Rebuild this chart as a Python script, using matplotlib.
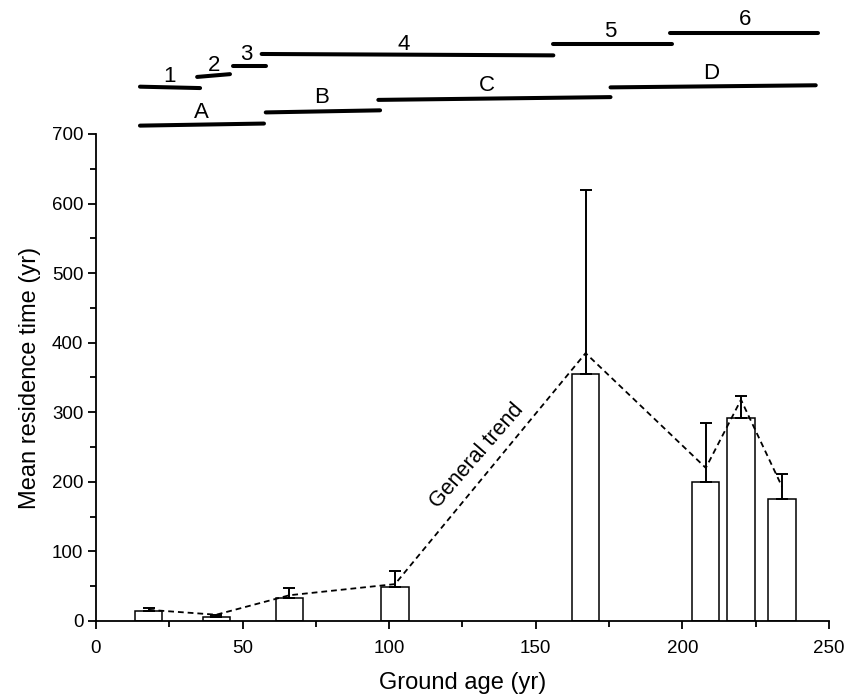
import matplotlib
matplotlib.use("Agg")
import matplotlib.pyplot as plt
import numpy as np

plt.rcParams['font.family'] = ['Liberation Sans', 'DejaVu Sans']

# Bars: ground age (yr), mean residence time (yr), upper error
ages = [18, 41, 66, 102, 167, 208, 220, 234]
mrt = [15, 6, 33, 49, 355, 200, 292, 175]
err = [3, 2, 15, 23, 265, 85, 32, 36]
bar_width = 9.3

# General trend (dashed)
trend_x = [18, 41, 66, 102, 167, 208, 220, 234]
trend_y = [16, 9, 37, 53, 385, 220, 318, 193]

# Stage segments above the plot
seg_labels = ['1', '2', '3', '4', '5', '6', 'A', 'B', 'C', 'D']
seg_x0 = [15.0, 34.5, 46.6, 56.5, 156.0, 195.8, 15.0, 57.9, 96.3, 175.5]
seg_x1 = [35.5, 45.7, 57.9, 156.0, 196.3, 246.1, 57.3, 96.9, 175.5, 245.5]
seg_y0 = [768, 782, 798, 815, 829, 845, 712, 731, 749, 767]
seg_y1 = [766, 786, 798, 813, 829, 845, 715, 734, 753, 770]
lab_x = [25.2, 40.3, 51.2, 104.8, 175.3, 221.4, 36.0, 77.0, 133.3, 210.0]
lab_y = [783, 799, 814, 828, 847, 864, 731, 752, 770, 787]

fig = plt.figure(figsize=(8.45, 6.96), dpi=100)
ax = fig.add_axes([0.1136, 0.1078, 0.981 - 0.1136, 0.8075 - 0.1078])

ax.bar(ages, mrt, width=bar_width, color='white', edgecolor='black',
       linewidth=1.1, zorder=2)
ax.errorbar(ages, mrt, yerr=[np.zeros(len(err)), err], fmt='none',
            ecolor='black', elinewidth=1.4, capsize=4.2, capthick=1.4, zorder=3)
ax.plot(trend_x, trend_y, linestyle=(0, (3.2, 2.2)), color='black',
        linewidth=1.3, zorder=4)

for lab, x0, x1, y0, y1, lx, ly in zip(seg_labels, seg_x0, seg_x1, seg_y0,
                                       seg_y1, lab_x, lab_y):
    ax.plot([x0, x1], [y0, y1], color='black', linewidth=2.9,
            solid_capstyle='round', clip_on=False)
    ax.text(lx, ly, lab, ha='center', va='center', fontsize=16, clip_on=False)

ax.text(130, 238, 'General trend', rotation=49, rotation_mode='anchor',
        ha='center', va='center', fontsize=15.5)

ax.set_xlim(0, 250)
ax.set_ylim(0, 700)
ax.set_xticks([0, 50, 100, 150, 200, 250])
ax.set_xticks([25, 75, 125, 175, 225], minor=True)
ax.set_yticks(range(0, 701, 100))
ax.set_yticks(range(50, 701, 100), minor=True)
ax.tick_params(which='major', direction='out', length=6, width=1.3,
               labelsize=13.5)
ax.tick_params(axis='x', which='major', pad=7.5)
ax.tick_params(axis='y', which='major', pad=3)
ax.tick_params(which='minor', direction='out', length=4, width=1.3)
for s in ['top', 'right']:
    ax.spines[s].set_visible(False)
for s in ['left', 'bottom']:
    ax.spines[s].set_linewidth(1.3)

ax.set_xlabel('Ground age (yr)', fontsize=17, labelpad=11)
ax.set_ylabel('Mean residence time (yr)', fontsize=17, labelpad=8)

fig.savefig('out.png', dpi=100)
